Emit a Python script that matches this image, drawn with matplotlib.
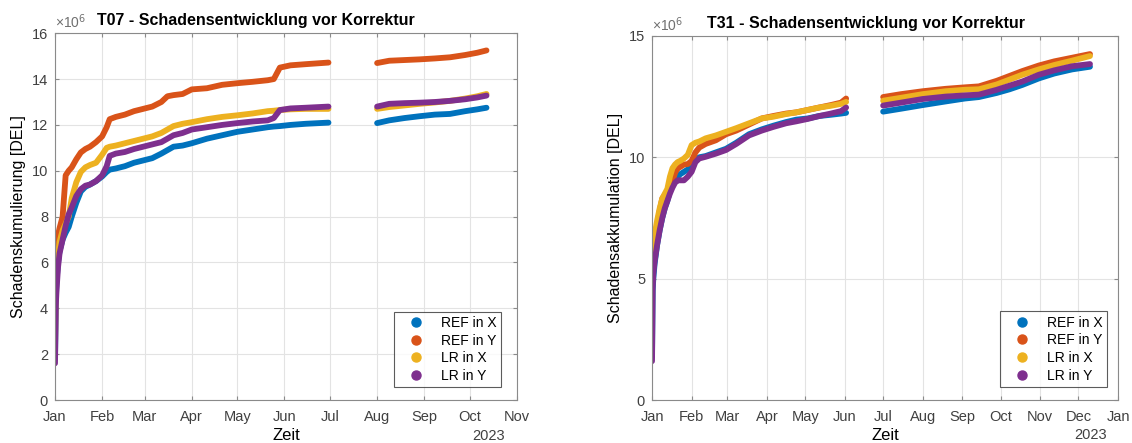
import numpy as np
import pandas as pd
import matplotlib
matplotlib.use('Agg')
import matplotlib.pyplot as plt
import matplotlib.dates as mdates
from matplotlib.lines import Line2D

plt.rcParams['font.family'] = ['Liberation Sans', 'DejaVu Sans']

# ---- data (values in 1e6 DEL), x = days since 2023-01-01, NaN = data gap ----
series_names = ['REF in X', 'REF in Y', 'LR in X', 'LR in Y']
colors = ['#0072BD', '#D95319', '#EDB120', '#7E2F8E']

days_t07 = [0, 0.5, 1, 2, 3, 5, 7, 9, 11, 14, 17, 20, 23, 27, 31, 34, 36, 40, 46, 52, 58, 64,
            70, 74, 78, 84, 90, 100, 110, 120, 130, 140, 144, 148, 155, 165, 180, 196,
            212, 220, 230, 240, 250, 260, 270, 278, 284]
t07_ref_x = [1.8, 4.3, 5.2, 6.0, 6.5, 7.0, 7.3, 7.55, 8.0, 8.6, 9.1, 9.3, 9.4, 9.55, 9.75, 9.95,
             10.05, 10.1, 10.2, 10.35, 10.45, 10.55, 10.75, 10.9, 11.05, 11.1, 11.2, 11.4, 11.55,
             11.7, 11.8, 11.9, 11.93, 11.95, 12.0, 12.05, 12.1, np.nan,
             12.08, 12.2, 12.3, 12.38, 12.45, 12.48, 12.6, 12.68, 12.75]
t07_ref_y = [4.5, 5.5, 6.3, 7.2, 7.5, 8.0, 9.8, 10.0, 10.15, 10.5, 10.8, 10.95, 11.05, 11.25, 11.5,
             11.9, 12.25, 12.35, 12.45, 12.6, 12.7, 12.8, 13.0, 13.25, 13.3, 13.35, 13.55, 13.6,
             13.75, 13.82, 13.88, 13.95, 14.0, 14.5, 14.6, 14.65, 14.72, np.nan,
             14.7, 14.8, 14.83, 14.86, 14.9, 14.95, 15.05, 15.15, 15.25]
t07_lr_x = [2.3, 5.0, 5.6, 6.3, 6.9, 7.4, 7.7, 8.0, 8.8, 9.5, 9.95, 10.15, 10.25, 10.35, 10.7,
            11.0, 11.05, 11.1, 11.2, 11.3, 11.4, 11.5, 11.65, 11.8, 11.95, 12.05, 12.12, 12.25,
            12.35, 12.42, 12.5, 12.6, 12.62, 12.65, 12.68, 12.7, 12.7, np.nan,
            12.7, 12.78, 12.85, 12.92, 12.98, 13.05, 13.15, 13.25, 13.35]
t07_lr_y = [1.6, 4.1, 4.8, 5.8, 6.4, 7.0, 7.6, 8.1, 8.4, 8.9, 9.2, 9.35, 9.4, 9.55, 9.8, 10.2,
            10.65, 10.75, 10.82, 10.95, 11.05, 11.15, 11.25, 11.4, 11.55, 11.65, 11.8, 11.9,
            12.0, 12.08, 12.15, 12.2, 12.3, 12.65, 12.72, 12.75, 12.8, np.nan,
            12.8, 12.92, 12.95, 12.97, 13.0, 13.05, 13.12, 13.2, 13.28]

days_t31 = [0, 0.5, 1, 2, 4, 6, 8, 10, 12, 14, 16, 18, 20, 22, 25, 28, 31, 34, 37, 42, 50, 58,
            66, 76, 86, 95, 105, 113, 122, 131, 140, 148, 152, 166,
            181, 195, 212, 230, 245, 256, 270, 280, 290, 303, 315, 329, 343]
t31_ref_x = [1.8, 4.5, 5.0, 5.6, 6.4, 7.0, 7.5, 7.9, 8.2, 8.6, 8.9, 9.1, 9.2, 9.3, 9.4, 9.5,
             9.65, 9.85, 10.0, 10.05, 10.2, 10.35, 10.6, 10.95, 11.15, 11.3, 11.45, 11.55, 11.6,
             11.7, 11.75, 11.8, 11.83, np.nan,
             11.88, 12.0, 12.15, 12.3, 12.42, 12.48, 12.65, 12.8, 12.98, 13.25, 13.45, 13.62, 13.73]
t31_ref_y = [4.9, 5.6, 6.0, 6.4, 7.2, 7.8, 8.3, 8.45, 8.55, 8.8, 9.0, 9.35, 9.55, 9.6, 9.7, 9.72,
             9.85, 10.2, 10.4, 10.55, 10.7, 10.95, 11.1, 11.35, 11.6, 11.7, 11.8, 11.85, 11.95,
             12.05, 12.15, 12.25, 12.42, np.nan,
             12.48, 12.6, 12.72, 12.82, 12.88, 12.92, 13.15, 13.35, 13.55, 13.78, 13.95, 14.1, 14.25]
t31_lr_x = [5.0, 5.8, 6.3, 6.8, 7.4, 7.9, 8.3, 8.5, 8.7, 9.2, 9.55, 9.7, 9.8, 9.85, 9.95, 10.1,
            10.5, 10.6, 10.65, 10.78, 10.9, 11.05, 11.2, 11.4, 11.6, 11.67, 11.78, 11.85, 11.95,
            12.05, 12.12, 12.2, 12.28, np.nan,
            12.33, 12.45, 12.6, 12.72, 12.78, 12.8, 13.0, 13.2, 13.4, 13.62, 13.8, 13.98, 14.17]
t31_lr_y = [1.6, 4.6, 5.2, 5.7, 6.4, 7.0, 7.5, 7.9, 8.2, 8.5, 8.75, 8.95, 9.05, 9.05, 9.05, 9.2,
            9.4, 9.8, 9.95, 10.02, 10.15, 10.3, 10.55, 10.9, 11.1, 11.25, 11.4, 11.48, 11.58,
            11.7, 11.8, 11.9, 12.05, np.nan,
            12.13, 12.25, 12.4, 12.5, 12.55, 12.58, 12.78, 12.95, 13.12, 13.4, 13.58, 13.75, 13.84]

start = pd.Timestamp('2023-01-01')
text_col = '#404040'
spine_col = '#8a8a8a'


def draw(ax, days, values, title, ylabel, xlim_end, yticks, title_x, leg_anchor):
    x = start + pd.to_timedelta(days, unit='D')
    for vals, c in zip(values, colors):
        ax.plot(x, vals, color=c, lw=4.2, solid_capstyle='round', solid_joinstyle='round')

    ax.set_xlim(start, pd.Timestamp(xlim_end))
    ax.set_ylim(yticks[0], yticks[-1])
    ax.set_yticks(yticks)
    ax.set_yticklabels([f'{t:g}' for t in yticks])
    ax.xaxis.set_major_locator(mdates.MonthLocator())
    ax.xaxis.set_major_formatter(mdates.DateFormatter('%b'))

    ax.grid(True, color='#e3e3e3', lw=0.8)
    ax.set_axisbelow(True)
    for s in ax.spines.values():
        s.set_color(spine_col)
        s.set_linewidth(0.8)
    ax.tick_params(direction='in', top=True, right=True, length=3, color=spine_col,
                   labelsize=10.5, labelcolor=text_col)
    ax.tick_params(axis='x', pad=7)
    ax.tick_params(axis='y', pad=5)

    ax.set_title(title, fontsize=11.5, fontweight='bold', x=title_x, pad=6)
    ax.set_xlabel('Zeit', fontsize=12, labelpad=3)
    ax.set_ylabel(ylabel, fontsize=11.5, labelpad=4)
    ax.text(0.0, 1.005, '×10$^{6}$', transform=ax.transAxes, fontsize=10,
            color='#707070', ha='left', va='bottom')
    ax.text(0.975, -0.078, '2023', transform=ax.transAxes, fontsize=10.5,
            color=text_col, ha='right', va='top')

    handles = [Line2D([], [], ls='none', marker='o', ms=6.5, color=c) for c in colors]
    leg = ax.legend(handles, series_names, loc='lower right', bbox_to_anchor=leg_anchor,
                    fontsize=10, frameon=True, fancybox=False, edgecolor='#333333',
                    handlelength=2.6, handletextpad=0.5, borderpad=0.3,
                    labelspacing=0.27, borderaxespad=0.0)
    leg.get_frame().set_linewidth(0.8)


fig = plt.figure(figsize=(11.32, 4.43), dpi=100)
ax1 = fig.add_axes([0.0486, 0.097, 0.408, 0.828])
ax2 = fig.add_axes([0.576, 0.097, 0.4117, 0.822])

draw(ax1, days_t07, [t07_ref_x, t07_ref_y, t07_lr_x, t07_lr_y],
     'T07 - Schadensentwicklung vor Korrektur', 'Schadenskumulierung [DEL]',
     '2023-11-01', [0, 2, 4, 6, 8, 10, 12, 14, 16], 0.434, (0.966, 0.035))
draw(ax2, days_t31, [t31_ref_x, t31_ref_y, t31_lr_x, t31_lr_y],
     'T31 - Schadensentwicklung vor Korrektur', 'Schadensakkumulation [DEL]',
     '2024-01-01', [0, 5, 10, 15], 0.459, (0.976, 0.036))

fig.savefig('out.png', dpi=100)
